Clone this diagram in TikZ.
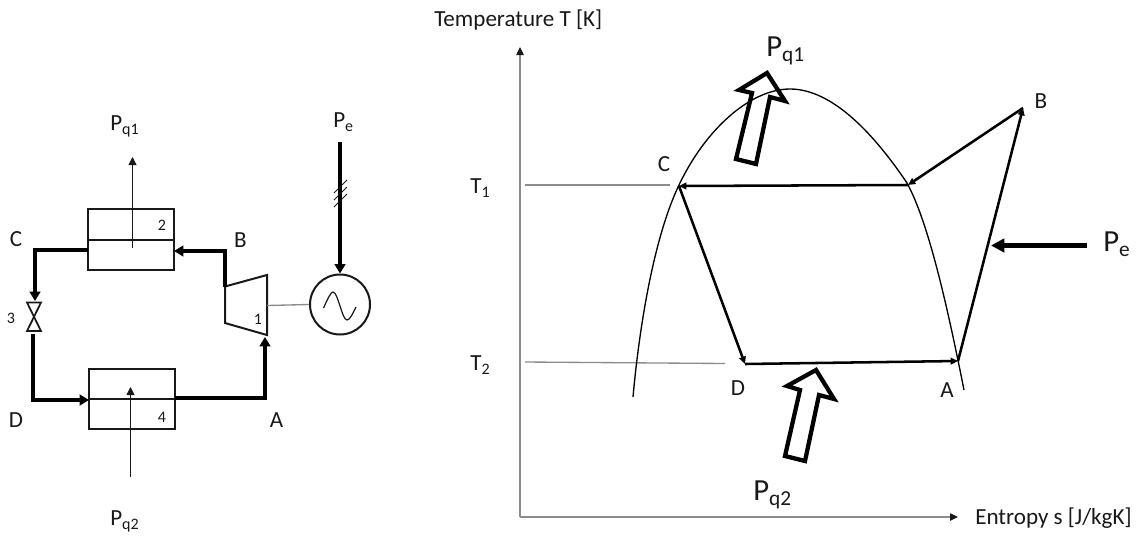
\documentclass[tikz,border=0pt]{standalone}
\usepackage{fontspec}
\setmainfont{Carlito}
\usetikzlibrary{arrows.meta}
\newcommand\lowsb[1]{\raisebox{-0.4ex}{\fontsize{12}{14}\selectfont #1}}
\newcommand\lowsbbig[1]{\raisebox{-0.4ex}{\fontsize{16}{18}\selectfont #1}}
\definecolor{ink}{gray}{0.1}
\definecolor{thin}{gray}{0.55}
\tikzset{
  lbl/.style={inner sep=0pt,text=ink,font=\fontsize{17.3}{19}\selectfont},
  plbl/.style={lbl,anchor=base west},
  lblbig/.style={inner sep=0pt,anchor=base west,text=ink,font=\fontsize{23}{25}\selectfont},
  num/.style={inner sep=0pt,text=ink,font=\fontsize{12}{14}\selectfont},
  hx/.style={draw=ink,line width=1.5pt,minimum width=64.5pt,minimum height=45.5pt,inner sep=0pt},
  midln/.style={draw=ink,line width=1.5pt},
  pipe/.style={draw=black,line width=2.5pt,-{Triangle[length=7pt,width=8pt]}},
  heat/.style={draw=ink,line width=0.7pt,-{Triangle[length=6pt,width=6pt]}},
  grayln/.style={draw=thin,line width=1pt},
  axis/.style={draw=thin,line width=1pt,-{Triangle[length=6pt,width=5.5pt,color=ink]}},
  cyc/.style={draw=black,line width=1.9pt,-{Triangle[length=5.5pt,width=5pt]}},
  hollow/.style={draw=black,line width=3.2pt,line join=miter},
}
\begin{document}
\begin{tikzpicture}[x=0.75pt,y=-0.75pt]
\useasboundingbox (0,0) rectangle (1141,536);
\fill[white] (0,0) rectangle (1141,536);

% ---------- left: circuit ----------
\node[hx] (cond) at (131,239.5) {};
\draw[midln] (cond.west) -- (cond.east);
\node[hx] (evap) at (131.5,399) {};
\draw[midln] (evap.west) -- (evap.east);
\node[draw=ink,line width=1.5pt,circle,minimum size=45pt,inner sep=0pt] (gen) at (340,304.5) {};
\draw[ink,line width=0.9pt] (323.5,308) .. controls (328,298) and (331,292) .. (333,292) .. controls (338,292) and (342,320) .. (347,320) .. controls (350,320) and (353,313) .. (356,307);

\coordinate (tl) at (225,286.5);
\coordinate (tr) at (267,275);
\coordinate (br) at (267,335);
\coordinate (bl) at (225,323);
\draw[draw=ink,line width=1.5pt] (tl) -- (tr) -- (br) -- (bl) -- cycle;
\coordinate (tshaft) at (267,305.5);

% valve
\coordinate (vb) at (33,334);
\draw[draw=ink,line width=1.3pt] (27,302.5) -- (41,302.5) -- (27,331) -- (41,331) -- cycle;

% pipe ends
\coordinate (cL) at (88,250);
\coordinate (c1) at (35,250);
\coordinate (c2) at (35,301);
\coordinate (cR) at (174,251);
\coordinate (b1) at (225,251);
\coordinate (d1) at (33,400);
\coordinate (eL) at (89,400);
\coordinate (eR) at (175,398);
\coordinate (a1) at (265,398);
\coordinate (tIn) at (265,337);
\coordinate (peTop) at (340,142);

\draw[pipe] (cL) -- (c1) -- (c2);
\draw[pipe] (tl) -- (b1) -- (cR);
\draw[pipe] (vb) -- (d1) -- (eL);
\draw[pipe] (eR) -- (a1) -- (tIn);
\draw[pipe,line width=3pt] (peTop) -- (gen.north);
\draw[ink,line width=0.6pt] (334,193) -- (347,180) (334,200) -- (347,187) (334,207) -- (347,194);
\draw[grayln] (tshaft) -- (gen.west);

\coordinate (qa) at (132.5,248);
\coordinate (qb) at (132.5,157);
\coordinate (qc) at (130.5,477);
\coordinate (qd) at (130.5,387);
\draw[heat] (qa) -- (qb);
\draw[heat] (qc) -- (qd);

\node[plbl] (lq1) at (110,130) {P\lowsb{q1}};
\node[plbl] (lpe) at (333,127) {P\lowsb{e}};
\node[plbl] (lq2) at (110,525) {P\lowsb{q2}};
\node[lbl] (lC) at (16,239.5) {C};
\node[lbl] (lB) at (240.5,240) {B};
\node[lbl] (lD) at (16,420) {D};
\node[lbl] (lA) at (276.5,420) {A};
\node[num] (n2) at (162,225) {2};
\node[num] (n1) at (258,319) {1};
\node[num] (n3) at (11,318) {3};
\node[num] (n4) at (162,417) {4};

% ---------- right: T-s diagram ----------
\coordinate (O) at (520,517);
\coordinate (Ty) at (520,47);
\coordinate (Sx) at (958,517);
\draw[axis] (O) -- (Ty);
\draw[axis] (O) -- (Sx);
\node[lbl,anchor=west] (tlab) at (434,20) {Temperature T [K]};
\node[lbl,anchor=west] (slab) at (975,518) {Entropy s [J/kgK]};

\node[plbl] (T1) at (470,193) {T\lowsb{1}};
\node[plbl] (T2) at (470,370) {T\lowsb{2}};
\coordinate (t1a) at (525,185);
\coordinate (t1b) at (670,185);
\coordinate (t2a) at (525,362);
\coordinate (t2b) at (725,363.5);
\draw[grayln] (t1a) -- (t1b);
\draw[grayln] (t2a) -- (t2b);

\draw[thin,line width=1pt] (633,397) .. controls (640,320) and (655,235) .. (679,185) .. controls (705,130) and (750,89) .. (790,89) .. controls (835,89) and (878,140) .. (907,183) .. controls (930,225) and (950,320) .. (964,390);

\coordinate (PC) at (679,186);
\coordinate (PD) at (745,364);
\coordinate (PA) at (958,361);
\coordinate (PB) at (1023,108);
\coordinate (PM) at (908,185);
\draw[cyc] (PC) -- (PD);
\draw[cyc] (PD) -- (PA);
\draw[cyc] (PA) -- (PB);
\draw[cyc] (PB) -- (PM);
\draw[cyc] (PM) -- (PC);

\draw[hollow] (767,73) -- (739,90) -- (752,93) -- (736,159) -- (756,164) -- (770,97) -- (785,101) -- cycle;
\draw[hollow] (816,370) -- (787,386) -- (800,390) -- (785,456) -- (805,461) -- (819,395) -- (834,399) -- cycle;

\coordinate (pe1) at (1087,245.5);
\coordinate (pe2) at (991,245.5);
\draw[draw=black,line width=3.2pt,-{Triangle[length=10pt,width=10pt]}] (pe1) -- (pe2);

\node[lbl] (rB) at (1041,101) {B};
\node[lbl] (rC) at (664,164) {C};
\node[lbl] (rD) at (738,388) {D};
\node[lbl] (rA) at (947,390) {A};
\node[lblbig] (rq1) at (766,56) {P\lowsbbig{q1}};
\node[lblbig] (rq2) at (753,500) {P\lowsbbig{q2}};
\node[lblbig] (rpe) at (1103,251) {P\lowsbbig{e}};
\end{tikzpicture}
\end{document}
